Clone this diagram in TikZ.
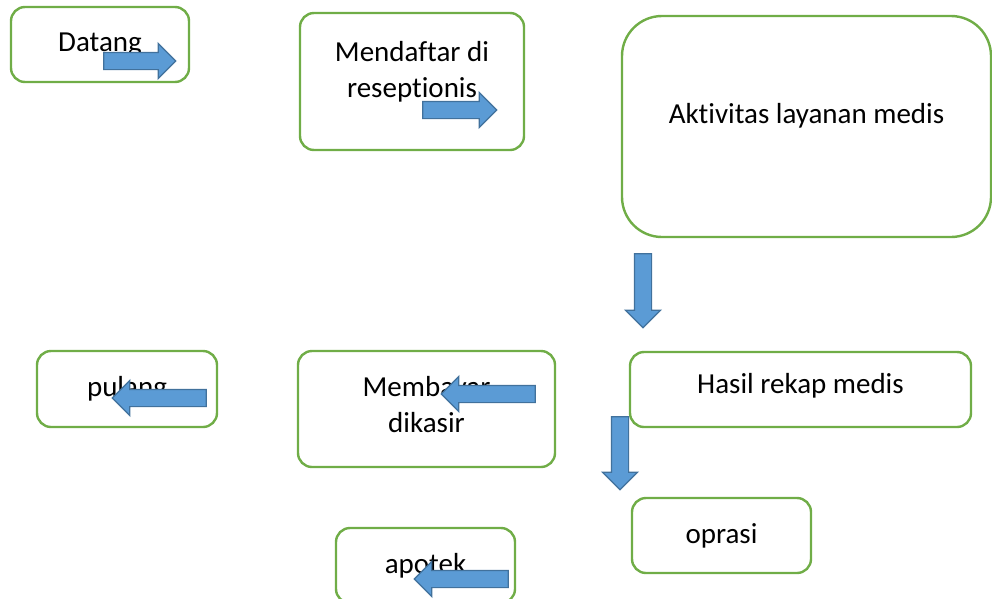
\documentclass[tikz,border=0pt]{standalone}
\usepackage{fontspec}
\setmainfont{Carlito}[Ligatures=NoCommon,Contextuals=NoAlternate]
\usetikzlibrary{shapes.arrows}
\definecolor{klinikGreen}{RGB}{112,173,71}
\definecolor{klinikBlue}{RGB}{91,155,213}
\definecolor{klinikDarkBlue}{RGB}{65,113,156}

\begin{document}
\begin{tikzpicture}[
  x=1pt,y=-1pt,
  station/.style={
    draw=klinikGreen,
    line width=2.4pt,
    rounded corners=14pt,
    align=center,
    inner sep=0pt,
    font=\fontsize{29}{36}\selectfont
  },
  blockarrow/.style={
    single arrow,
    draw=klinikDarkBlue,
    fill=klinikBlue,
    line width=1.2pt,
    inner sep=8pt,
    single arrow head extend=9pt,
    single arrow head indent=0pt,
    minimum height=#1
  },
  blockarrow/.default=74pt
]
  \useasboundingbox (0,0) rectangle (992,598);
  \node[station,minimum width=178pt,minimum height=75pt] (datang) at (100,44.5) {Datang};
  \node[station,minimum width=224pt,minimum height=137pt,text depth=24pt] (daftar) at (412,81.5) {Mendaftar di\\reseptionis};
  \node[station,rounded corners=40pt,minimum width=369pt,minimum height=221pt,text depth=26pt] (layanan) at (806.5,126.5) {Aktivitas layanan medis};
  \node[station,minimum width=180pt,minimum height=76pt] (pulang) at (127,389) {pulang};
  \node[station,minimum width=257pt,minimum height=116pt,text depth=10pt] (bayar) at (426.5,409) {Membayar\\dikasir};
  \node[station,minimum width=341pt,minimum height=75pt,text depth=12pt] (rekap) at (800.5,389.5) {Hasil rekap medis};
  \node[station,minimum width=179pt,minimum height=75pt] (oprasi) at (721.5,535.5) {oprasi};
  \node[station,minimum width=179pt,minimum height=75pt] (apotek) at (425.5,565.5) {apotek};
  % block arrows on top of the boxes
  \node[blockarrow=72pt] (datangpanah) at (135.5,61) {};
  \node[blockarrow=74pt] (daftarpanah) at (455.5,110) {};
  \node[blockarrow=74pt,shape border rotate=270] (layananpanah) at (643,286.5) {};
  \node[blockarrow=94pt,shape border rotate=180] (bayarpanah) at (492.5,394) {};
  \node[blockarrow=94pt,shape border rotate=180] (pulangpanah) at (163.5,398) {};
  \node[blockarrow=73pt,shape border rotate=270] (rekappanah) at (620,449) {};
  \node[blockarrow=94pt,shape border rotate=180] (apotekpanah) at (465.5,579) {};
\end{tikzpicture}
\end{document}
